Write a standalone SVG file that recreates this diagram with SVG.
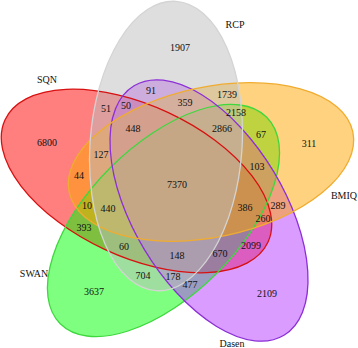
<svg xmlns="http://www.w3.org/2000/svg" width="358" height="348" viewBox="0 0 358 348">
<style>
.f{fill-opacity:0.5;stroke:none}
.o{fill:none;stroke-width:1.3}
text{font-family:"Liberation Serif","Times New Roman",serif;font-size:10px;fill:#111;text-anchor:middle}
</style>
<rect width="358" height="348" fill="#fff"/>
<g id="fills">
<ellipse id="fill-SQN" class="f" fill="#ff0000" cx="136.5" cy="181" rx="145" ry="75.5" transform="rotate(25 136.5 181)"/>
<ellipse id="fill-SWAN" class="f" fill="#00ff00" cx="163.5" cy="220.5" rx="146" ry="75" transform="rotate(-45 163.5 220.5)"/>
<ellipse id="fill-Dasen" class="f" fill="#b53cff" cx="209" cy="210.5" rx="145.5" ry="75.5" transform="rotate(59 209 210.5)"/>
<ellipse id="fill-BMIQ" class="f" fill="#ffa500" cx="211" cy="162" rx="145" ry="75" transform="rotate(-12 211 162)"/>
<ellipse id="fill-RCP" class="f" fill="#bebebe" cx="166" cy="146" rx="145" ry="76" transform="rotate(94 166 146)"/>
</g>
<g id="outlines">
<g id="SQN"><ellipse class="o" stroke="#d81010" cx="136.5" cy="181" rx="145" ry="75.5" transform="rotate(25 136.5 181)"/><text x="47" y="82.5">SQN</text><text x="47" y="145.5">6800</text></g>
<g id="SWAN"><ellipse class="o" stroke="#3ed83e" cx="163.5" cy="220.5" rx="146" ry="75" transform="rotate(-45 163.5 220.5)"/><text x="34" y="276.5">SWAN</text><text x="94" y="294.5">3637</text></g>
<g id="Dasen"><ellipse class="o" stroke="#8c2fd6" cx="209" cy="210.5" rx="145.5" ry="75.5" transform="rotate(59 209 210.5)"/><text x="232" y="347">Dasen</text><text x="267" y="296.5">2109</text></g>
<g id="BMIQ"><ellipse class="o" stroke="#f0ac30" cx="211" cy="162" rx="145" ry="75" transform="rotate(-12 211 162)"/><text x="344" y="198.5">BMIQ</text><text x="309" y="146.5">311</text></g>
<g id="RCP"><ellipse class="o" stroke="#d4d4d4" cx="166" cy="146" rx="145" ry="76" transform="rotate(94 166 146)"/><text x="235" y="27.5">RCP</text><text x="180" y="50.5">1907</text></g>
</g>
<g id="counts">
<text x="106" y="111.5">51</text>
<text x="126" y="108.5">50</text>
<text x="151" y="93.5">91</text>
<text x="133" y="131.5">448</text>
<text x="101" y="157.5">127</text>
<text x="185" y="105.5">359</text>
<text x="227" y="98">1739</text>
<text x="236" y="116">2158</text>
<text x="222" y="131.5">2866</text>
<text x="261" y="137.5">67</text>
<text x="257" y="169.5">103</text>
<text x="79" y="178.5">44</text>
<text x="87" y="208.5">10</text>
<text x="108" y="211.5">440</text>
<text x="177" y="187.5">7370</text>
<text x="245" y="210.5">386</text>
<text x="278" y="208.5">289</text>
<text x="263" y="221.5">260</text>
<text x="251" y="248.5">2099</text>
<text x="220" y="256.5">670</text>
<text x="177" y="258.5">148</text>
<text x="124" y="249.5">60</text>
<text x="84" y="230.5">393</text>
<text x="143" y="278.5">704</text>
<text x="173" y="280">178</text>
<text x="190" y="287.5">477</text>
</g>
</svg>
